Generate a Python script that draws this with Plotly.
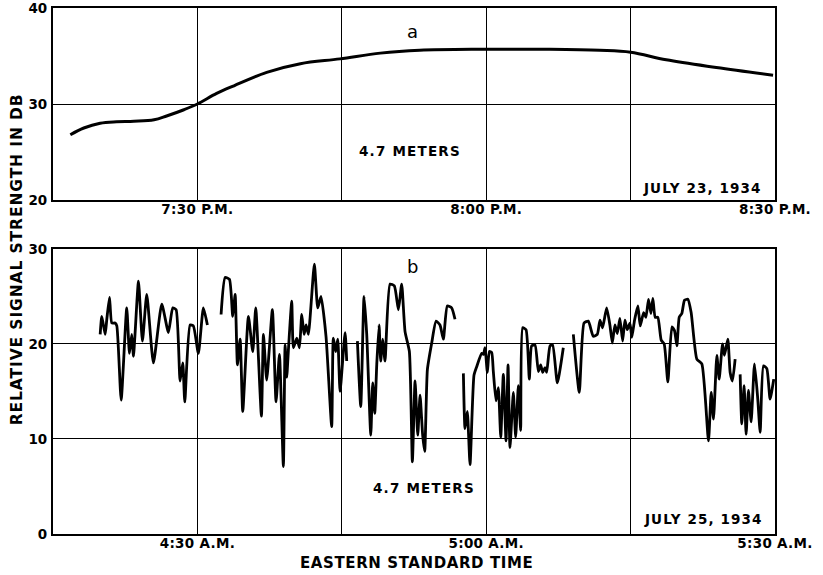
import plotly.graph_objects as go
from plotly.subplots import make_subplots

# ---------------- DATA ----------------
# time in minutes after 7:15 P.M. (panel a) / 4:15 A.M. (panel b); values in dB
a_minutes = [1.8, 3.2, 4.9, 6.6, 8.4, 10.5, 11.8, 13.6, 15.0, 17.0, 18.8, 22.2, 25.7,
             29.8, 34.0, 38.1, 44.7, 51.6, 56.8, 60.0, 63.7, 68.9, 74.8]
a_db = [26.8, 27.5, 28.0, 28.15, 28.2, 28.35, 28.75, 29.4, 30.0, 31.1, 31.9, 33.3, 34.2,
        34.7, 35.3, 35.6, 35.7, 35.7, 35.6, 35.4, 34.6, 33.8, 33.0]

b1_minutes = [4.90, 5.07, 5.42, 5.59, 5.87, 6.11, 6.45, 6.63, 7.08, 7.66, 7.94, 8.18, 8.36,
              8.53, 8.88, 9.29, 9.74, 10.43, 11.30, 11.99, 12.44, 12.79, 13.20, 13.48,
              13.69, 14.24, 14.58, 15.10, 15.62, 16.04]
b1_db = [21.0, 22.9, 21.0, 22.6, 24.9, 22.2, 22.2, 21.9, 14.1, 23.8, 19.0, 21.0, 18.7,
         21.2, 26.6, 20.3, 25.2, 18.0, 24.2, 21.2, 23.8, 23.6, 16.1, 18.0,
         13.9, 22.0, 21.9, 19.0, 23.8, 22.0]

b2_minutes = [17.46, 17.88, 18.33, 18.67, 18.92, 19.16, 19.44, 19.71, 20.30, 20.75, 21.06,
              21.65, 21.86, 22.20, 22.79, 23.17, 23.52, 23.93, 24.11, 24.28, 24.45, 24.80,
              24.97, 25.32, 25.60, 25.84, 26.08, 26.29, 26.53, 27.15, 27.50, 27.84, 28.36,
              28.95, 29.12, 29.37, 29.58, 29.82, 30.34, 30.51]
b2_db = [23.1, 27.0, 26.8, 22.9, 25.2, 17.8, 20.5, 12.9, 22.9, 19.2, 23.8,
         12.4, 21.0, 16.2, 23.6, 13.9, 18.9, 7.1, 19.9, 16.5, 19.3, 24.5,
         19.6, 20.6, 19.6, 23.1, 21.0, 22.0, 21.0, 28.4, 23.8, 25.0, 20.8,
         11.3, 20.6, 19.2, 20.5, 15.0, 21.2, 18.2]

b3_minutes = [31.62, 31.97, 32.31, 32.59, 33.01, 33.21, 33.42, 33.63, 33.87, 34.04, 34.25,
              34.49, 35.01, 35.46, 35.88, 36.22, 36.57, 37.02, 37.33, 37.61, 37.89, 38.13,
              38.40, 38.61, 38.89, 39.34, 39.79, 40.20, 40.55, 40.96, 41.41, 41.76]
b3_db = [20.3, 13.4, 25.0, 21.0, 10.4, 15.9, 12.7, 17.8, 22.0, 18.2, 20.5,
         18.2, 26.3, 26.1, 23.6, 26.3, 21.3, 19.2, 7.6, 16.1, 10.4, 14.6,
         10.4, 8.7, 17.3, 20.1, 22.4, 22.0, 20.5, 24.0, 23.8, 22.6]

b4_minutes = [42.63, 42.80, 43.04, 43.32, 43.73, 44.01, 44.53, 44.71, 44.88, 45.12, 45.33,
              45.57, 45.74, 46.02, 46.26, 46.51, 46.78, 47.06, 47.27, 47.47, 47.82, 48.06,
              48.34, 48.58, 48.79, 49.14, 49.48, 49.72, 50.07, 50.42, 50.66, 50.87, 51.11,
              51.28, 51.63, 51.90, 52.39, 53.01]
b4_db = [16.9, 11.1, 12.9, 7.3, 16.7, 17.6, 19.0, 18.9, 19.6, 17.0, 19.2,
         19.1, 17.1, 14.0, 15.4, 10.2, 16.8, 9.8, 17.8, 9.1, 14.9, 10.2,
         15.6, 10.9, 21.7, 21.5, 16.3, 19.8, 19.9, 17.1, 17.8, 17.0, 17.5,
         17.0, 19.8, 19.9, 15.9, 19.6]

b5_minutes = [54.05, 54.67, 55.16, 55.61, 56.12, 56.54, 56.82, 57.09, 57.51, 57.85, 58.10,
              58.37, 58.62, 58.89, 59.17, 59.41, 59.65, 59.93, 60.13, 60.41, 60.76, 61.00,
              61.35, 61.59, 61.86, 62.11, 62.31, 62.56, 62.83, 63.18, 63.49, 63.87, 64.29,
              64.56, 64.81, 65.05, 65.32, 65.60, 65.95, 66.29, 66.88, 67.40, 68.09, 68.37,
              68.61, 68.96, 69.20, 69.55, 69.75, 70.10, 70.34, 70.58, 70.86]
b5_db = [21.0, 14.9, 22.2, 22.4, 20.8, 21.0, 22.5, 21.7, 23.8, 22.0, 20.1,
         22.0, 21.1, 22.7, 20.3, 22.5, 21.5, 22.2, 20.7, 22.5, 24.0, 21.9,
         23.3, 22.8, 24.7, 23.2, 24.8, 22.8, 22.8, 20.4, 20.0, 16.0, 21.8,
         21.4, 19.8, 22.8, 23.2, 24.6, 24.7, 23.3, 18.4, 17.9, 9.8, 14.9,
         12.1, 18.8, 16.3, 20.0, 18.8, 20.5, 17.0, 16.1, 18.4]

b6_minutes = [71.38, 71.55, 71.79, 72.00, 72.24, 72.52, 72.87, 73.21, 73.46, 73.80, 74.15,
              74.49, 74.87]
b6_db = [16.8, 11.6, 15.6, 10.5, 15.1, 11.8, 17.9, 14.2, 10.7, 17.7, 17.4,
         14.2, 16.3]

a_tick_vals = [15, 30, 45, 60, 75]
a_tick_text = ["7:30 P.M.", "", "8:00 P.M.", "", "8:30 P.M."]
b_tick_vals = [15, 30, 45, 60, 75]
b_tick_text = ["4:30 A.M.", "", "5:00 A.M.", "", "5:30 A.M."]
a_y_ticks = [20, 30, 40]
b_y_ticks = [0, 10, 20, 30]


def spaced(txt, px):
    return f'<span style="letter-spacing:{px}px">{txt}</span>'


# ---------------- FIGURE ----------------
FONT = "DejaVu Sans"
W = "bold"
fig = make_subplots(rows=2, cols=1, shared_xaxes=False, vertical_spacing=0.0)

fig.add_trace(go.Scatter(x=a_minutes, y=a_db, mode="lines",
                         line=dict(color="black", width=3, shape="spline", smoothing=1.0),
                         hoverinfo="skip", showlegend=False), row=1, col=1)

bx, by = [], []
for xs, ys in [(b1_minutes, b1_db), (b2_minutes, b2_db), (b3_minutes, b3_db),
               (b4_minutes, b4_db), (b5_minutes, b5_db), (b6_minutes, b6_db)]:
    bx += xs + [None]
    by += ys + [None]
fig.add_trace(go.Scatter(x=bx, y=by, mode="lines", connectgaps=False,
                         line=dict(color="black", width=2.8, shape="spline", smoothing=0.5),
                         hoverinfo="skip", showlegend=False), row=2, col=1)

axis_common = dict(showline=True, linecolor="black", linewidth=2.2, mirror=True,
                   showgrid=True, gridcolor="black", gridwidth=1.4, zeroline=False,
                   automargin=False, ticks="", ticklabeloverflow="allow",
                   tickfont=dict(family=FONT, size=13.5, color="black", weight=W))

fig.update_xaxes(range=[0, 75], tickmode="array", tickvals=a_tick_vals,
                 ticktext=[spaced(t, 0.3) if t else "" for t in a_tick_text],
                 ticklabelstandoff=-4, row=1, col=1, **axis_common)
fig.update_xaxes(range=[0, 75], tickmode="array", tickvals=b_tick_vals,
                 ticktext=[spaced(t, 0.3) if t else "" for t in b_tick_text],
                 ticklabelstandoff=-4, row=2, col=1, **axis_common)
fig.update_yaxes(range=[20, 40], tickmode="array", tickvals=a_y_ticks,
                 ticklabelstandoff=1, row=1, col=1, **axis_common)
fig.update_yaxes(range=[0, 30], tickmode="array", tickvals=b_y_ticks,
                 ticklabelstandoff=1, row=2, col=1, **axis_common)

fig.update_layout(
    width=823, height=575,
    margin=dict(l=53, r=48, t=8, b=41, autoexpand=False),
    paper_bgcolor="white", plot_bgcolor="white",
    xaxis=dict(domain=[0, 1]), xaxis2=dict(domain=[0, 1]),
    yaxis=dict(domain=[0.635, 1.0]), yaxis2=dict(domain=[0.0, 0.542]),
    font=dict(family=FONT, color="black"),
)

ann_font = dict(family=FONT, size=13.5, color="black", weight=W)
annotations = [
    dict(x=37.3, y=37.6, xref="x", yref="y", text="a", showarrow=False,
         font=dict(family=FONT, size=18, color="black")),
    dict(x=37.1, y=25.1, xref="x", yref="y", text=spaced("4.7 METERS", 1.2),
         showarrow=False, font=ann_font),
    dict(x=67.4, y=21.3, xref="x", yref="y", text=spaced("JULY 23, 1934", 1.1),
         showarrow=False, font=ann_font),
    dict(x=37.3, y=28.2, xref="x2", yref="y2", text="b", showarrow=False,
         font=dict(family=FONT, size=18, color="black")),
    dict(x=38.5, y=4.8, xref="x2", yref="y2", text=spaced("4.7 METERS", 1.2),
         showarrow=False, font=ann_font),
    dict(x=67.5, y=1.55, xref="x2", yref="y2", text=spaced("JULY 25, 1934", 1.1),
         showarrow=False, font=ann_font),
    dict(x=-0.0646, y=0.523, xref="paper", yref="paper",
         text=spaced("RELATIVE SIGNAL STRENGTH IN DB", 0.9),
         textangle=-90, showarrow=False,
         font=dict(family=FONT, size=15.5, color="black", weight=W)),
    dict(x=0.503, y=-0.055, xref="paper", yref="paper",
         text=spaced("EASTERN STANDARD TIME", 0.6),
         showarrow=False, yanchor="middle",
         font=dict(family=FONT, size=15, color="black", weight=W)),
]
fig.update_layout(annotations=annotations)

fig.write_html("out.html")
